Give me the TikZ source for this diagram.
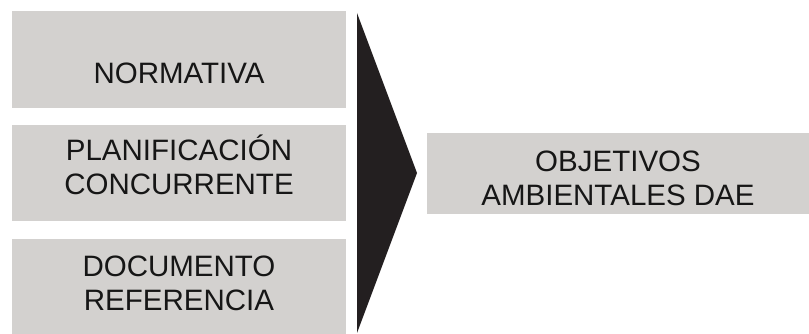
\documentclass[tikz,border=0pt]{standalone}
\usepackage{fontspec}
\setmainfont{Liberation Sans}
\definecolor{boxgray}{HTML}{D3D1CF}
\definecolor{arrowdark}{HTML}{231F20}
\definecolor{textdark}{HTML}{161616}

\begin{document}
\begin{tikzpicture}[x=1pt, y=1pt,
    inbox/.style={fill=boxgray, minimum width=334pt, inner sep=0pt},
    outbox/.style={inbox, minimum width=382pt, minimum height=81pt},
    boxtext/.style={inner sep=0pt, align=center, text=textdark,
        font=\fontsize{29.5}{34}\selectfont}]
            \useasboundingbox (0,0) rectangle (809,334);

            \node[inbox, minimum height=97pt,
                label={[boxtext, yshift=-13.4pt]center:NORMATIVA}] (norm) at (179,274.5) {};
            \node[inbox, minimum height=96pt,
                label={[boxtext, yshift=8pt]center:PLANIFICACIÓN\\CONCURRENTE}] (plan) at (179,161) {};
            \node[inbox, minimum height=95pt,
                label={[boxtext, yshift=3pt]center:DOCUMENTO\\REFERENCIA}] (docref) at (179,47.5) {};

            \coordinate (top) at (357,321);
            \coordinate (tip) at (417,161);
            \coordinate (bot) at (357,1);
            \fill[arrowdark] (top) -- (tip) -- (bot) -- cycle;

            \node[outbox,
                label={[boxtext, yshift=-5pt]center:OBJETIVOS\\AMBIENTALES DAE}] (obj) at (618,160.5) {};
        \end{tikzpicture}
\end{document}
